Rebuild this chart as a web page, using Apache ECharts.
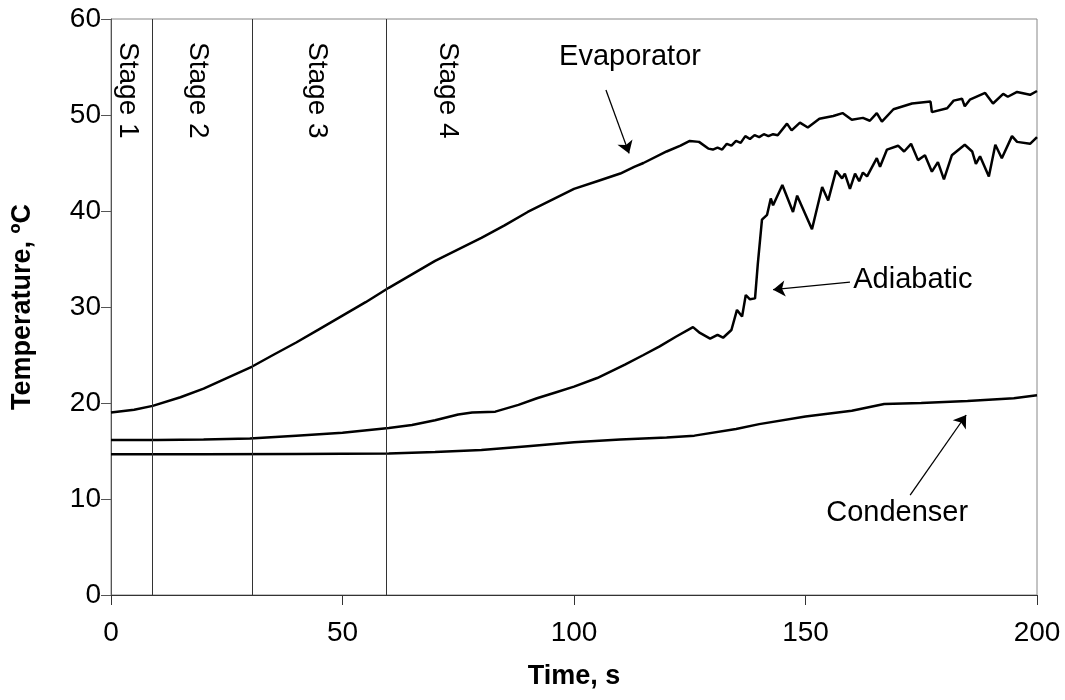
<!DOCTYPE html>
<html>
<head>
<meta charset="utf-8">
<script src="https://cdn.jsdelivr.net/npm/echarts@6/dist/echarts.min.js"></script>
<style>
html,body{margin:0;padding:0;background:#fff;}
#chart{width:1065px;height:700px;}
</style>
</head>
<body>
<div id="chart"></div>
<script>
// ---------- DATA ----------
const xTicks = [0, 50, 100, 150, 200];
const yTicks = [0, 10, 20, 30, 40, 50, 60];

const evapTime = [0,5,9,15,20,25,30.5,35,40,45,50,55,60,65,70,75,80,85,90,95,100,105,110,113,115,120,123,125,127,129,130,131,132,133,134,135,136,137,138,139,140,141,142,143,144,146,147,148.8,150.5,153,156,158,160,162.4,163.9,165.4,166.5,169,173,177,177.3,180.6,182,183.8,184.4,185.5,188.8,190.5,192.7,193.7,195.7,198.5,200];
const evapTemp = [19.0,19.3,19.7,20.6,21.5,22.6,23.8,25.0,26.3,27.7,29.1,30.5,32.0,33.4,34.8,36.0,37.2,38.5,39.9,41.1,42.3,43.1,43.9,44.6,45.0,46.2,46.8,47.3,47.2,46.5,46.4,46.6,46.4,47.0,46.8,47.3,47.1,47.8,47.5,47.9,47.7,48.0,47.8,48.0,47.9,49.1,48.4,49.2,48.7,49.6,49.9,50.2,49.5,49.7,49.4,50.2,49.3,50.6,51.2,51.4,50.3,50.7,51.5,51.7,50.9,51.6,52.3,51.2,52.2,51.9,52.4,52.1,52.5];

const adiaTime = [0,10,20,30,40,50,60,65,70,75,78,83,88,92,96,100,105,111,115,118.5,122,125.7,127.2,129.4,131,132.2,134,135.2,136.3,137.1,138,139.1,139.7,140.6,141.7,142.5,143,145,147.3,148.2,151.4,153.6,154.9,156.6,157.9,158.5,159.6,160.7,161.6,162.4,163.3,165.4,166.1,167.6,170,171.3,172.8,174.3,175.8,177.3,178.6,179.9,181.6,184.4,186,186.8,187.7,189.6,191,192.4,194.6,195.7,198.5,200];
const adiaTemp = [16.15,16.15,16.2,16.3,16.6,16.9,17.4,17.7,18.2,18.8,19.0,19.1,19.8,20.5,21.1,21.7,22.6,24.0,25.0,25.9,26.9,27.9,27.3,26.7,27.1,26.8,27.6,29.7,29.0,31.25,30.8,30.9,34.5,39.1,39.6,41.3,40.6,42.7,39.9,41.6,38.1,42.5,41.1,44.2,43.4,43.9,42.3,43.9,43.1,44.0,43.6,45.5,44.6,46.4,46.8,46.2,47.0,45.3,45.8,44.1,45.1,43.3,45.8,46.9,46.2,44.9,45.7,43.6,46.9,45.5,47.8,47.2,47.0,47.7];

const condTime = [0,20,40,60,70,80,90,100,110,120,126,135,140,150,160,167,175,185,195,200];
const condTemp = [14.65,14.65,14.7,14.75,14.9,15.1,15.5,15.9,16.2,16.4,16.6,17.3,17.8,18.6,19.2,19.9,20.0,20.2,20.5,20.8];

const stageTimes = [9, 30.5, 59.5];
const stageLabels = ['Stage 1', 'Stage 2', 'Stage 3', 'Stage 4'];
const annotationLabels = ['Evaporator', 'Adiabatic', 'Condenser'];

// ---------- LAYOUT (positions in data space) ----------
const stageLabelAnchors = [[3.7, 57.6], [18.8, 57.6], [44.5, 57.6], [72.8, 57.6]];
const annotationTextAnchors = [[112.1, 56.0], [173.2, 32.8], [169.8, 8.5]];
const annotationArrows = [
  [[106.9, 52.6], [111.9, 46.0]],
  [[159.6, 32.6], [143.0, 31.8]],
  [[172.6, 10.4], [184.7, 18.75]]
];

const FONT = "'Liberation Sans', Arial, sans-serif";
const pairs = (a, b) => a.map((v, i) => [v, b[i]]);

const chart = echarts.init(document.getElementById('chart'));
const lineStyle = { color: '#000', width: 2.5 };

const option = {
  animation: false,
  backgroundColor: '#fff',
  grid: { left: 111, right: 28, top: 19, bottom: 105, show: true, borderColor: '#888', borderWidth: 1 },
  xAxis: {
    type: 'value', min: xTicks[0], max: xTicks[xTicks.length - 1], interval: 50,
    name: 'Time, s', nameLocation: 'middle', nameGap: 68,
    nameTextStyle: { fontFamily: FONT, fontSize: 27, fontWeight: 'bold', color: '#000' },
    axisLine: { lineStyle: { color: '#333', width: 1 } },
    axisTick: { show: true, length: 10, inside: false, lineStyle: { color: '#333' } },
    axisLabel: { fontFamily: FONT, fontSize: 28, color: '#000', margin: 24 },
    splitLine: { show: false }
  },
  yAxis: {
    type: 'value', min: yTicks[0], max: yTicks[yTicks.length - 1], interval: 10,
    name: 'Temperature, ºC', nameLocation: 'middle', nameGap: 75, nameRotate: 90,
    nameTextStyle: { fontFamily: FONT, fontSize: 27, fontWeight: 'bold', color: '#000' },
    axisLine: { lineStyle: { color: '#555', width: 1 } },
    axisTick: { show: true, length: 10, inside: false, lineStyle: { color: '#555' } },
    axisLabel: { fontFamily: FONT, fontSize: 28, color: '#000', margin: 10 },
    splitLine: { show: false }
  },
  series: [
    { type: 'line', name: 'Evaporator', data: pairs(evapTime, evapTemp), showSymbol: false, lineStyle, silent: true },
    { type: 'line', name: 'Adiabatic', data: pairs(adiaTime, adiaTemp), showSymbol: false, lineStyle, silent: true },
    {
      type: 'line', name: 'Condenser', data: pairs(condTime, condTemp), showSymbol: false, lineStyle, silent: true,
      markLine: {
        silent: true, symbol: ['none', 'none'], animation: false,
        label: { show: false },
        lineStyle: { color: '#333', width: 1, type: 'solid' },
        data: stageTimes.map(t => ({ xAxis: t }))
      }
    },
    {
      type: 'line', name: 'arrows', data: [], silent: true,
      markLine: {
        silent: true, animation: false, symbol: ['none', 'arrow'], symbolSize: 12,
        label: { show: false },
        lineStyle: { color: '#000', width: 1.3, type: 'solid' },
        data: annotationArrows.map(a => [{ coord: a[0] }, { coord: a[1] }])
      }
    }
  ]
};
chart.setOption(option);

const graphics = [];
stageLabels.forEach((s, i) => {
  const p = chart.convertToPixel({ gridIndex: 0 }, stageLabelAnchors[i]);
  graphics.push({
    type: 'text', x: p[0], y: p[1], rotation: -Math.PI / 2, silent: true,
    style: { text: s, fontFamily: FONT, fontSize: 28, fill: '#000', textAlign: 'left', textVerticalAlign: 'middle' }
  });
});
annotationLabels.forEach((s, i) => {
  const p = chart.convertToPixel({ gridIndex: 0 }, annotationTextAnchors[i]);
  graphics.push({
    type: 'text', x: p[0], y: p[1], silent: true,
    style: { text: s, fontFamily: FONT, fontSize: 29, fill: '#000', textAlign: 'center', textVerticalAlign: 'middle' }
  });
});
chart.setOption({ graphic: graphics });
</script>
</body>
</html>
